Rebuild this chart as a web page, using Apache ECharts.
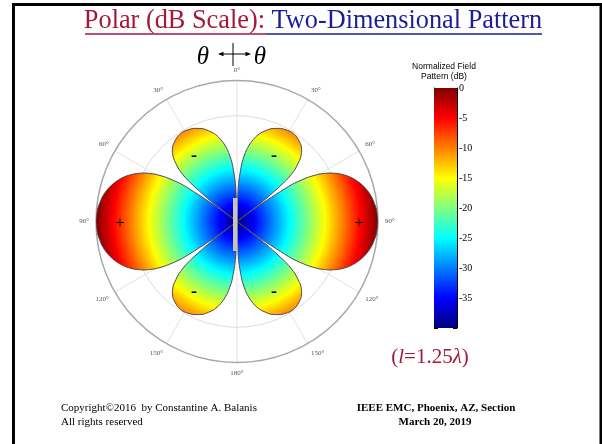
<!DOCTYPE html>
<html>
<head>
<meta charset="utf-8">
<script src="https://cdn.jsdelivr.net/npm/echarts@6/dist/echarts.min.js"></script>
<style>
  html, body { margin: 0; padding: 0; background: #fff; }
  #main { width: 602px; height: 444px; }
</style>
</head>
<body>
<div id="main"></div>
<script>
// pattern, theta 0..90 deg (the rest is symmetric)
var thetaDeg = [0, 1, 2, 3, 5, 7.5, 10, 12.5, 15, 20, 25, 30, 32, 35, 40, 42.5, 45, 48, 50, 52, 53.1,
                54, 56, 58, 60, 62.5, 65, 67.5, 70, 72.5, 75, 77.5, 80, 85, 90];
var fieldDb = [-40, -37.2, -30.9, -27.5, -23.0, -19.6, -17.2, -15.4, -14.0, -12.0, -10.85, -10.34, -10.33, -10.57, -11.74, -12.85, -14.51, -17.8, -21.6, -30.1, -40,
               -32.0, -21.3, -16.5, -13.17, -10.21, -7.97, -6.17, -4.71, -3.50, -2.51, -1.72, -1.09, -0.27, 0];
var angleTicks = [0, 30, 60, 90, 120, 150, 180];
var barTicks = [0, -5, -10, -15, -20, -25, -30, -35];
var dbMin = -40;

var serif = 'Liberation Serif, DejaVu Serif, serif';
var jet = [
  { offset: 0, color: '#00007f' },
  { offset: 0.125, color: '#0000ff' },
  { offset: 0.375, color: '#00ffff' },
  { offset: 0.625, color: '#ffff00' },
  { offset: 0.875, color: '#ff0000' },
  { offset: 1, color: '#800000' }
];

// full 360 deg trace
var pts = [];
var i;
for (i = 0; i < thetaDeg.length; i++) pts.push([fieldDb[i], thetaDeg[i]]);
for (i = thetaDeg.length - 2; i >= 0; i--) pts.push([fieldDb[i], 180 - thetaDeg[i]]);
for (i = 1; i < thetaDeg.length; i++) pts.push([fieldDb[i], 180 + thetaDeg[i]]);
for (i = thetaDeg.length - 2; i >= 0; i--) pts.push([fieldDb[i], 360 - thetaDeg[i]]);

var cx = 237, cy = 221.5, R = 141;

var chart = echarts.init(document.getElementById('main'));
var option = {
  backgroundColor: '#fff',
  animation: false,
  polar: { center: [cx, cy], radius: R },
  angleAxis: {
    type: 'value', min: 0, max: 360, interval: 30, startAngle: 90, clockwise: true,
    axisLine: { lineStyle: { color: '#a8a8a8', width: 1.5 } },
    axisTick: { show: false },
    axisLabel: {
      margin: 7, fontFamily: serif, fontSize: 7, color: '#555',
      formatter: function (v) {
        var a = v > 180 ? 360 - v : v;
        return angleTicks.indexOf(a) >= 0 && v < 360 ? a + '°' : '';
      }
    },
    splitLine: { lineStyle: { color: '#e2e2e2', width: 1 } }
  },
  radiusAxis: {
    type: 'value', min: dbMin, max: 0, interval: 10,
    axisLine: { show: false }, axisTick: { show: false }, axisLabel: { show: false },
    splitLine: { lineStyle: { color: ['rgba(0,0,0,0)', 'rgba(0,0,0,0)', 'rgba(0,0,0,0)', '#dcdcdc', 'rgba(0,0,0,0)'] } }
  },
  grid: { left: 434, top: 88, width: 23, height: 240 },
  xAxis: { type: 'category', data: [''], show: false },
  yAxis: [
    {
      type: 'value', min: dbMin, max: 0, interval: 5, position: 'left',
      axisLine: { show: true, lineStyle: { color: '#000' } },
      axisTick: { show: true, inside: true, length: 4, lineStyle: { color: '#000' } },
      axisLabel: { show: false }, splitLine: { show: false }
    },
    {
      type: 'value', min: dbMin, max: 0, interval: 5, position: 'right',
      axisLine: { show: true, lineStyle: { color: '#000' } },
      axisTick: { show: true, inside: true, length: 4, lineStyle: { color: '#000' } },
      axisLabel: {
        margin: 2, fontFamily: serif, fontSize: 10, color: '#000',
        formatter: function (v) { return barTicks.indexOf(v) >= 0 ? String(v) : ''; }
      },
      splitLine: { show: false }
    }
  ],
  series: [
    {
      type: 'line', coordinateSystem: 'polar', data: pts, symbol: 'none', smooth: 0.2,
      lineStyle: { color: '#4a4a55', width: 1 },
      areaStyle: {
        origin: 'start', opacity: 1,
        color: { type: 'radial', x: cx, y: cy, r: R, global: true, colorStops: jet }
      }
    },
    {
      type: 'bar', data: [dbMin], barWidth: '100%', yAxisIndex: 0,
      itemStyle: {
        color: { type: 'linear', x: 0, y: 0, x2: 0, y2: 1, colorStops: jet.map(function (s) { return { offset: 1 - s.offset, color: s.color }; }) }
      }
    }
  ],
  graphic: [
    { type: 'rect', shape: { x: 13.5, y: 4.5, width: 587.5, height: 460 }, style: { fill: 'none', stroke: '#000', lineWidth: 3 } },
    {
      type: 'text', x: 313, y: 21,
      style: {
        text: '{a|Polar (dB Scale): }{b|Two-Dimensional Pattern}', align: 'center', verticalAlign: 'middle',
        rich: {
          a: { fontFamily: serif, fontSize: 26.3, fill: '#a5173b' },
          b: { fontFamily: serif, fontSize: 26.3, fill: '#1d1d98' }
        }
      }
    },
    { type: 'line', shape: { x1: 85, y1: 34, x2: 266, y2: 34 }, style: { stroke: '#a5173b', lineWidth: 1.5 } },
    { type: 'line', shape: { x1: 266, y1: 34, x2: 542, y2: 34 }, style: { stroke: '#1d1d98', lineWidth: 1.5 } },
    { type: 'text', x: 203, y: 57, style: { text: 'θ', font: 'italic 25px ' + serif, fill: '#000', align: 'center', verticalAlign: 'middle' } },
    { type: 'text', x: 260, y: 57, style: { text: 'θ', font: 'italic 25px ' + serif, fill: '#000', align: 'center', verticalAlign: 'middle' } },
    { type: 'line', shape: { x1: 233, y1: 43, x2: 233, y2: 66 }, style: { stroke: '#000', lineWidth: 1 } },
    { type: 'line', shape: { x1: 220, y1: 54, x2: 249, y2: 54 }, style: { stroke: '#000', lineWidth: 1 } },
    { type: 'polygon', shape: { points: [[218, 54], [223.5, 51.8], [223.5, 56.2]] }, style: { fill: '#000' } },
    { type: 'polygon', shape: { points: [[251, 54], [245.5, 51.8], [245.5, 56.2]] }, style: { fill: '#000' } },
    { type: 'text', x: 444, y: 67, style: { text: 'Normalized Field', font: '8.5px Liberation Sans, Arial, sans-serif', fill: '#000', align: 'center', verticalAlign: 'middle' } },
    { type: 'text', x: 444, y: 77, style: { text: 'Pattern (dB)', font: '8.5px Liberation Sans, Arial, sans-serif', fill: '#000', align: 'center', verticalAlign: 'middle' } },
    { type: 'rect', z: 100, shape: { x: 233, y: 198, width: 4.5, height: 53 }, style: { fill: '#c4c4c4' } },
    { type: 'text', z: 100, x: 120, y: 224, style: { text: '+', font: '16px ' + serif, fill: '#000', align: 'center', verticalAlign: 'middle' } },
    { type: 'text', z: 100, x: 359, y: 224, style: { text: '+', font: '16px ' + serif, fill: '#000', align: 'center', verticalAlign: 'middle' } },
    { type: 'text', z: 100, x: 194, y: 156, style: { text: '-', font: 'bold 18px ' + serif, fill: '#000', align: 'center', verticalAlign: 'middle' } },
    { type: 'text', z: 100, x: 274, y: 156, style: { text: '-', font: 'bold 18px ' + serif, fill: '#000', align: 'center', verticalAlign: 'middle' } },
    { type: 'text', z: 100, x: 194, y: 292, style: { text: '-', font: 'bold 18px ' + serif, fill: '#000', align: 'center', verticalAlign: 'middle' } },
    { type: 'text', z: 100, x: 274, y: 292, style: { text: '-', font: 'bold 18px ' + serif, fill: '#000', align: 'center', verticalAlign: 'middle' } },
    {
      type: 'text', x: 430, y: 357,
      style: {
        text: '{n|(}{i|l}{n|=1.25}{i|λ}{n|)}', align: 'center', verticalAlign: 'middle',
        rich: {
          n: { fontFamily: serif, fontSize: 21, fill: '#a5173b' },
          i: { fontFamily: serif, fontSize: 21, fontStyle: 'italic', fill: '#a5173b' }
        }
      }
    },
    { type: 'text', x: 61, y: 408, style: { text: 'Copyright©2016  by Constantine A. Balanis', font: '11px ' + serif, fill: '#000', align: 'left', verticalAlign: 'middle' } },
    { type: 'text', x: 61, y: 422, style: { text: 'All rights reserved', font: '11px ' + serif, fill: '#000', align: 'left', verticalAlign: 'middle' } },
    { type: 'text', x: 436, y: 408, style: { text: 'IEEE EMC, Phoenix, AZ, Section', font: 'bold 11px ' + serif, fill: '#000', align: 'center', verticalAlign: 'middle' } },
    { type: 'text', x: 435, y: 422, style: { text: 'March 20, 2019', font: 'bold 11px ' + serif, fill: '#000', align: 'center', verticalAlign: 'middle' } }
  ]
};
chart.setOption(option);
window.addEventListener('resize', chart.resize);
</script>
</body>
</html>
